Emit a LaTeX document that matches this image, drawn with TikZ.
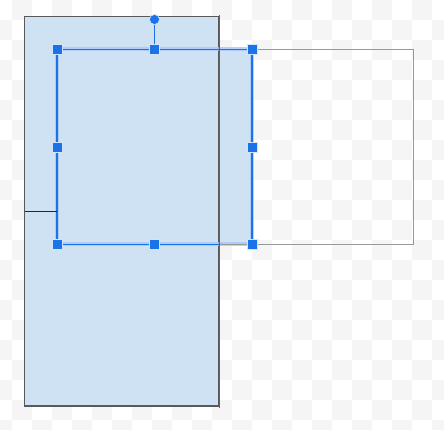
\documentclass[tikz,border=0pt]{standalone}
\definecolor{check}{HTML}{F5F5F5}
\definecolor{shapefill}{HTML}{CFE2F3}
\definecolor{shapeborder}{HTML}{595959}
\definecolor{hblue}{HTML}{1A73E8}
\definecolor{halo}{HTML}{A8C7FA}
\definecolor{hbord}{HTML}{D2E3FC}
\definecolor{ghost}{HTML}{999999}
\definecolor{guide}{HTML}{D93025}
\pgfdeclarelayer{bg}
\pgfdeclarelayer{mid}
\pgfsetlayers{bg,mid,main}
\begin{document}
\begin{tikzpicture}[x=1pt,y=-1pt,
  handle/.style={rectangle, draw=hbord, fill=hblue, line width=0.8pt, minimum size=10pt, inner sep=0pt, outer sep=0pt},
  rothandle/.style={circle, draw=hbord, fill=hblue, line width=0.6pt, minimum size=10pt, inner sep=0pt, outer sep=0pt},
  selhalo/.style={draw=halo, line width=4pt, opacity=0.8},
  selline/.style={draw=hblue, line width=1.5pt},
  shapebox/.style={fill=shapefill, draw=shapeborder, line width=1.5pt},
  ghostbox/.style={draw=ghost, line width=1pt},
  guideline/.style={draw=guide, line width=1pt},
  innerline/.style={draw=black!85, line width=1pt}
]
\useasboundingbox (0,0) rectangle (444,430);
% handles
\node[handle] (htl) at (57,49.5) {};
\node[handle] (ht) at (154.5,49.5) {};
\node[handle] (htr) at (252,49.5) {};
\node[handle] (hl) at (57,147) {};
\node[handle] (hr) at (252,147) {};
\node[handle] (hbl) at (57,244.5) {};
\node[handle] (hb) at (154.5,244.5) {};
\node[handle] (hbr) at (252,244.5) {};
\node[rothandle] (rot) at (154.5,19.5) {};
\begin{pgfonlayer}{bg}
  \begin{scope}
    \clip (0,0) rectangle (444,430);
    \fill[white] (0,0) rectangle (444,430);
    \foreach \r in {0,...,21} {
      \foreach \c in {0,...,22} {
        \pgfmathtruncatemacro{\parity}{mod(\r+\c,2)}
        \ifnum\parity=1 \fill[check] (\c*20-8,\r*20) rectangle ++(20,20); \fi
      }
    }
  \end{scope}
  % selection fill
  \fill[shapefill] (htl.center) rectangle (hbr.center);
  % main shape
  \draw[shapebox] (24.5,16.3) rectangle (218.5,406);
  % ghost preview
  \draw[ghostbox] (219,49.5) rectangle (413,244.5);
\end{pgfonlayer}
\begin{pgfonlayer}{mid}
  % selection outline
  \path[selhalo] (htl.center) rectangle (hbr.center);
  \path[selline] (htl.center) rectangle (hbr.center);
  \draw[ghostbox] (219,244.5) -- (hbr.center);
  % guide and inner line
  \coordinate (gtop) at (219.5,15);
  \coordinate (gbot) at (219.5,407.5);
  \draw[guideline] (gtop) -- (gbot);
  \coordinate (lstart) at (24.5,211.5);
  \draw[innerline] (lstart) -- (lstart -| hl.center);
  % rotation connector
  \draw[selline, line width=1.3pt] (rot) -- (ht);
\end{pgfonlayer}
\end{tikzpicture}
\end{document}
